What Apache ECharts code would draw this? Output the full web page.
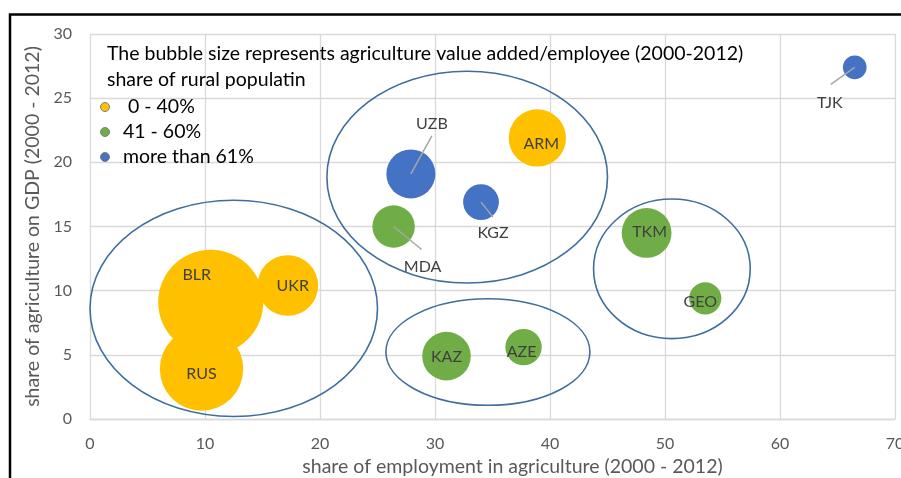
<!DOCTYPE html>
<html>
<head>
<meta charset="utf-8">
<script src="https://cdn.jsdelivr.net/npm/echarts@6/dist/echarts.min.js"></script>
<style>html,body{margin:0;padding:0;background:#fff}#c{width:901px;height:478px}</style>
</head>
<body>
<div id="c"></div>
<script>
// ---- data ----
const countries   = ['BLR','RUS','UKR','ARM','MDA','KAZ','AZE','TKM','GEO','UZB','KGZ','TJK'];
const employment  = [10.5, 9.7, 17.2, 38.9, 26.4, 31.0, 37.7, 48.4, 53.5, 27.9, 34.0, 66.5];
const gdpShare    = [9.1, 3.9, 10.4, 21.9, 15.0, 4.9, 5.6, 14.5, 9.4, 19.1, 16.9, 27.4];
const valueAdded  = [27.6, 17.4, 9.2, 8.2, 4.5, 5.9, 3.3, 6.2, 2.6, 6.0, 3.2, 1.4];
const ruralGroup  = [0, 0, 0, 0, 1, 1, 1, 1, 1, 2, 2, 2];
const groupNames  = [' 0 - 40%', '41 - 60%', 'more than 61%'];
const xTicks = [0, 10, 20, 30, 40, 50, 60, 70];
const yTicks = [0, 5, 10, 15, 20, 25, 30];
// cluster ellipses (data units)
const ellipseCx = [12.5, 32.8, 34.6, 50.6];
const ellipseCy = [8.62, 18.85, 5.22, 11.7];
const ellipseRx = [12.5, 12.2, 8.87, 6.81];
const ellipseRy = [8.42, 8.25, 4.15, 5.44];

// ---- styles ----
const FONT = 'Lato';
const groupColors = ['#FFC000', '#70AD47', '#4472C4'];
const labelOffsets = {
  BLR: [-14, -27], RUS: [0, 5], UKR: [5, 0], ARM: [4, 6], MDA: [29, 40], KAZ: [0, 1],
  AZE: [-2, 5], TKM: [3, -1], GEO: [-5, 3], UZB: [21, -50], KGZ: [12, 31], TJK: [-25, 35]
};
const leaderEnds = { UZB: [21, -38], MDA: [28, 23], KGZ: [12, 15], TJK: [-24, 17] };

const chart = echarts.init(document.getElementById('c'), null, { renderer: 'canvas' });

const scatterSeries = groupNames.map((g, gi) => ({
  name: g,
  type: 'scatter',
  z: 2,
  symbol: 'circle',
  symbolSize: v => 20 * Math.sqrt(v[2]),
  itemStyle: { color: groupColors[gi], opacity: 1 },
  emphasis: { disabled: true },
  label: {
    show: true, position: 'inside', formatter: '{b}',
    color: '#404040', fontSize: 16, fontFamily: FONT
  },
  data: countries.map((c, i) => ({ c, i }))
    .filter(o => ruralGroup[o.i] === gi)
    .map(o => ({
      name: o.c,
      value: [employment[o.i], gdpShare[o.i], valueAdded[o.i]],
      label: { offset: labelOffsets[o.c] }
    }))
}));

const leaderNames = Object.keys(leaderEnds);
const leaderSeries = {
  type: 'custom', z: 3, silent: true,
  data: leaderNames.map(n => { const i = countries.indexOf(n); return [employment[i], gdpShare[i], i]; }),
  renderItem: (params, api) => {
    const p = api.coord([api.value(0), api.value(1)]);
    const e = leaderEnds[countries[api.value(2)]];
    return { type: 'line', shape: { x1: p[0], y1: p[1], x2: p[0] + e[0], y2: p[1] + e[1] },
             style: { stroke: '#A6A6A6', lineWidth: 1.5 } };
  }
};

const ellipseSeries = {
  type: 'custom', z: 4, silent: true,
  data: ellipseCx.map((cx, i) => [cx, ellipseCy[i], ellipseRx[i], ellipseRy[i]]),
  renderItem: (params, api) => {
    const c = api.coord([api.value(0), api.value(1)]);
    const s = api.size([api.value(2), api.value(3)]);
    return { type: 'ellipse', shape: { cx: c[0], cy: c[1], rx: s[0], ry: s[1] },
             style: { fill: 'none', stroke: '#3E6E9E', lineWidth: 1.6 } };
  }
};

chart.setOption({
  animation: false,
  backgroundColor: '#fff',
  textStyle: { fontFamily: FONT },
  graphic: [{
    type: 'rect', z: 100, silent: true,
    shape: { x: 10, y: 14.5, width: 1000, height: 1000 },
    style: { fill: 'none', stroke: '#000', lineWidth: 2.5 }
  }],
  title: {
    text: 'The bubble size represents agriculture value added/employee (2000-2012)\nshare of rural populatin',
    left: 107, top: 41, padding: 0,
    textStyle: { fontFamily: FONT, fontSize: 19.5, fontWeight: 'normal', color: '#000', lineHeight: 26 }
  },
  legend: {
    data: groupNames,
    orient: 'vertical', left: 100, top: 97, padding: 0,
    itemWidth: 26, itemHeight: 9, itemGap: 5,
    icon: 'circle',
    itemStyle: { borderColor: '#7F7F7F', borderWidth: 1 },
    textStyle: { fontFamily: FONT, fontSize: 19.5, color: '#000' },
    selectedMode: false
  },
  grid: { left: 90, right: 6, top: 34, bottom: 59, outerBoundsMode: 'none', containLabel: false },
  xAxis: {
    type: 'value', min: xTicks[0], max: xTicks[xTicks.length - 1], interval: 10,
    name: 'share of employment in agriculture (2000 - 2012)',
    nameLocation: 'middle', nameGap: 36,
    nameTextStyle: { fontFamily: FONT, fontSize: 19.5, color: '#595959', padding: [0, 0, 0, 40] },
    axisLine: { show: true, lineStyle: { color: '#D9D9D9', width: 1.3 } },
    axisTick: { show: false },
    axisLabel: { margin: 17, fontFamily: FONT, fontSize: 16, color: '#595959' },
    splitLine: { show: true, lineStyle: { color: '#D9D9D9', width: 1.3 } }
  },
  yAxis: {
    type: 'value', min: yTicks[0], max: yTicks[yTicks.length - 1], interval: 5,
    name: 'share of agriculture on GDP (2000 - 2012)',
    nameLocation: 'middle', nameGap: 44,
    nameTextStyle: { fontFamily: FONT, fontSize: 19.5, color: '#595959' },
    axisLine: { show: false },
    axisTick: { show: false },
    axisLabel: { margin: 18, fontFamily: FONT, fontSize: 16, color: '#595959' },
    splitLine: { show: true, lineStyle: { color: '#D9D9D9', width: 1.3 } }
  },
  series: [ellipseSeries, ...scatterSeries, leaderSeries]
});
</script>
</body>
</html>
